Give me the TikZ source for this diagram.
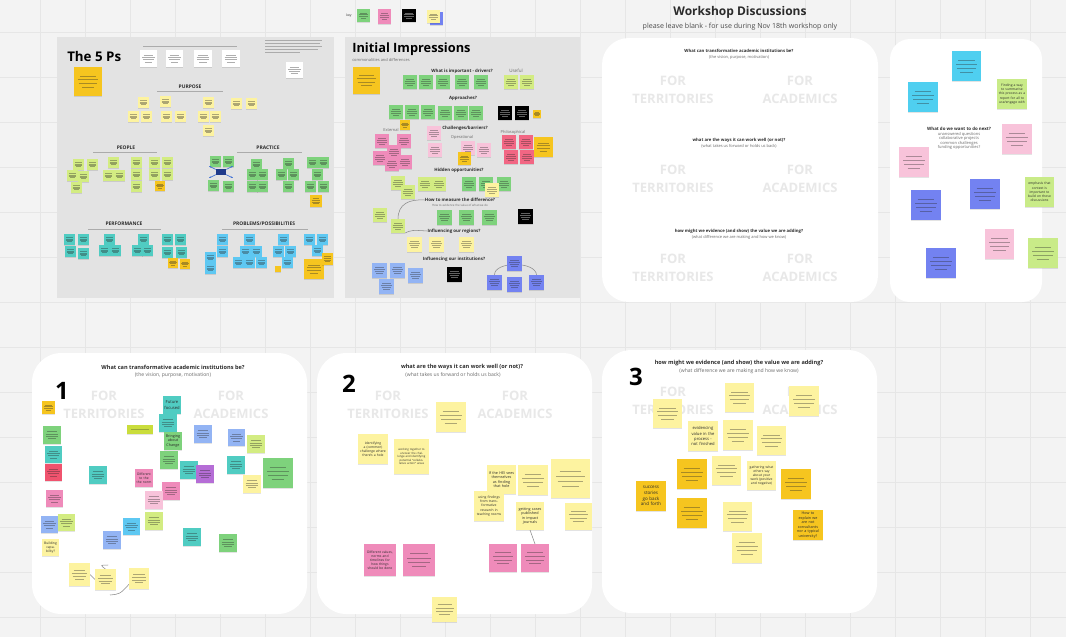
\documentclass[tikz,border=0pt]{standalone}
\usepackage{fontspec}
\setmainfont{Open Sans}
\usetikzlibrary{arrows.meta}

\definecolor{bg}{HTML}{F3F3F3}
\definecolor{gridc}{HTML}{E6E6E6}
\definecolor{pgray}{HTML}{E3E3E3}
\definecolor{ink}{HTML}{2B2B2B}
\definecolor{soft}{HTML}{6A6A6A}
\definecolor{fortxt}{HTML}{E8E8E8}
\definecolor{gold}{HTML}{F6C51F}
\definecolor{ylw}{HTML}{FDF3A0}
\definecolor{limec}{HTML}{D3EC82}
\definecolor{limeb}{HTML}{C9EB88}
\definecolor{grn}{HTML}{7ED27C}
\definecolor{tealc}{HTML}{50CCC2}
\definecolor{sky}{HTML}{5EC8F2}
\definecolor{cyanb}{HTML}{4FCFF0}
\definecolor{pinkc}{HTML}{EF8BBA}
\definecolor{lpink}{HTML}{F8C3DA}
\definecolor{rosec}{HTML}{F26683}
\definecolor{crim}{HTML}{F0536E}
\definecolor{peri}{HTML}{93B4F4}
\definecolor{violetc}{HTML}{7382F1}
\definecolor{purp}{HTML}{B56DD6}
\definecolor{olivec}{HTML}{CADD3C}
\definecolor{navy}{HTML}{1F3A8A}
\definecolor{arrowb}{HTML}{3D6FD6}
\definecolor{connc}{HTML}{8A8A8A}

\tikzset{
  gridline/.style={draw=gridc,line width=.45pt},
  hd/.style={inner sep=0,text=ink,font=\bfseries\fontsize{3.3}{4.1}\selectfont},
  caps/.style={inner sep=0,text=ink,font=\bfseries\fontsize{3.7}{4.4}\selectfont},
  fortext/.style={inner sep=0,text=fortxt,align=center,font=\bfseries\fontsize{9.75}{13.5}\selectfont},
  ptitle/.style={inner sep=0,text=ink,font=\bfseries\fontsize{4.2}{5}\selectfont},
  psub/.style={inner sep=0,text=soft,font=\fontsize{3.8}{4.6}\selectfont},
  ttitle/.style={inner sep=0,text=ink,font=\bfseries\fontsize{3.2}{4}\selectfont},
  tsub/.style={inner sep=0,text=soft,font=\fontsize{3}{3.8}\selectfont},
  bignum/.style={inner sep=0,text=black,font=\bfseries\fontsize{18}{20}\selectfont},
  scr/.style={draw=ink,opacity=.3,line width=.3pt},
  conn/.style={draw=connc,line width=.4pt},
  f2/.style={font=\fontsize{2.1}{2.6}\selectfont},
  f25/.style={font=\fontsize{2.5}{3.1}\selectfont},
  f28/.style={font=\fontsize{2.8}{3.4}\selectfont},
  f3/.style={font=\fontsize{3.1}{3.8}\selectfont},
  f34/.style={font=\fontsize{3.4}{4.2}\selectfont},
}

% faint strokes standing for unreadable handwriting on a note
\newcommand\scrib[5]{%
  \foreach \sa/\sb in {.3/.56,.43/.72,.56/.66,.69/.42}{%
    \draw[#5,line width=.22pt,opacity=.38] ({#1+#3*(1-\sb)/2},{#2+#4*\sa}) -- ++({#3*\sb},0);}}
% sticky note: left, top, width, height, colour
\newcommand\sk[5]{%
  \fill[black,opacity=.11] ({#1+.3},{#2+1}) rectangle ++(#3,#4);
  \fill[#5] (#1,#2) rectangle ++(#3,#4);
  \scrib{#1}{#2}{#3}{#4}{ink}}
% dark sticky note with light strokes
\newcommand\skd[5]{%
  \fill[black,opacity=.11] ({#1+.3},{#2+1}) rectangle ++(#3,#4);
  \fill[#5] (#1,#2) rectangle ++(#3,#4);
  \scrib{#1}{#2}{#3}{#4}{white}}
% blank sticky note
\newcommand\skb[5]{%
  \fill[black,opacity=.11] ({#1+.3},{#2+1}) rectangle ++(#3,#4);
  \fill[#5] (#1,#2) rectangle ++(#3,#4);}
% sticky note with readable text: left, top, width, height, colour, font style, text
\newcommand\skt[7]{%
  \fill[black,opacity=.11] ({#1+.3},{#2+1}) rectangle ++(#3,#4);
  \fill[#5] (#1,#2) rectangle ++(#3,#4);
  \node[inner sep=0,align=center,text=ink,text width=#3*0.66pt,#6] at ({#1+#3/2},{#2+#4/2}) {#7};}
% invisible handle over a note so connectors can attach to it
\newcommand\nm[5]{%
  \node[inner sep=0,outer sep=0,minimum width=#4*0.75pt,minimum height=#5*0.75pt] (#1) at ({#2+#4/2},{#3+#5/2}) {};}

\begin{document}
\begin{tikzpicture}[x=0.75pt,y=-0.75pt]
\useasboundingbox (0,0) rectangle (1066,637);
\fill[bg] (0,0) rectangle (1066,637);
\foreach \gx in {40,85,...,1066} \draw[gridline] (\gx,0) -- (\gx,637);
\foreach \gy in {32,77,...,637} \draw[gridline] (0,\gy) -- (1066,\gy);

% ---------------- heading and key ----------------
\node[inner sep=0,text=ink,font=\bfseries\fontsize{9}{11}\selectfont] (wtitle) at (740,12) {Workshop Discussions};
\node[inner sep=0,text=ink!85,font=\fontsize{5.3}{6.5}\selectfont] (wsub) at (740,27) {please leave blank - for use during Nov 18th workshop only};
\node[inner sep=0,text=ink,font=\fontsize{2.5}{3}\selectfont] (keylab) at (349,16) {key};
\sk{357}{9}{13}{13}{grn}
\sk{378}{9}{13}{15}{pinkc}
\skd{402}{9}{14}{13}{black}
\skb{430}{12}{13}{13}{violetc}
\sk{427}{10}{13}{13}{ylw}

% ---------------- panels ----------------
\fill[pgray] (57,37) rectangle (334,298);
\fill[pgray] (345,37) rectangle (580,298);
\fill[white,rounded corners=20pt] (602,38) rectangle (878,302);
\fill[white,rounded corners=15pt] (890,39) rectangle (1042,302);
\fill[white,rounded corners=22pt] (32,353) rectangle (307,614);
\fill[white,rounded corners=22pt] (317,353) rectangle (592,614);
\fill[white,rounded corners=22pt] (602,350) rectangle (877,613);

% ---------------- The 5 Ps ----------------
\node[inner sep=0,anchor=west,text=black,font=\bfseries\fontsize{10}{12}\selectfont] (fiveps) at (67,56) {The 5 Ps};
\draw[scr] (143,46) -- (237,46);
\foreach \ly/\lx in {40/322,43/320,46/322,49/318,52/300} \draw[scr] (265,\ly) -- (\lx,\ly);
\sk{140}{50}{17}{17}{white}
\sk{166}{50}{17}{17}{white}
\sk{194}{50}{18}{17}{white}
\sk{222}{50}{18}{17}{white}
\sk{286}{62}{17}{16}{white}
\sk{74}{67}{28}{29}{gold}

\node[caps] (purpose) at (190,87) {PURPOSE};
\draw[scr] (157,91.5) -- (223,91.5);
\foreach \x/\y in {138/97,160/96,128/111,141/111,161/111,175/111,203/97,198/111,210/111,203/125,231/98,246/98}
  {\sk{\x}{\y}{11}{11}{ylw}}

\node[caps] (people) at (126,148) {PEOPLE};
\draw[scr] (93,152.5) -- (157,152.5);
\node[caps] (practice) at (268,148) {PRACTICE};
\draw[scr] (237,152.5) -- (302,152.5);
\foreach \x/\y in {73/159,87/159,108/157,131/157,149/157,162/157,67/170,78/171,103/170,114/170,131/169,149/169,162/169,71/182,131/181}
  {\sk{\x}{\y}{11}{11}{limec}}
\sk{155}{181}{10}{10}{gold}
\foreach \x/\y in {210/156,223/156,251/159,283/158,307/157,318/157,208/180,223/181,247/169,257/169,247/181,257/181,276/169,288/169,283/181,312/169,305/181,318/181}
  {\sk{\x}{\y}{11}{11}{grn}}
\sk{310}{195}{12}{12}{gold}
% small hub sketch among the practice notes
\node[fill=navy,inner sep=0,minimum width=7.5pt,minimum height=4pt] (hub) at (221,172) {};
\coordinate (hubA) at (209,166);
\coordinate (hubB) at (233,166);
\coordinate (hubC) at (209,178);
\coordinate (hubD) at (233,178);
\foreach \c in {hubA,hubB,hubC,hubD}
  \draw[arrowb,line width=.5pt,-{Stealth[length=1.6pt,width=1.4pt]}] (hub) -- (\c);

\node[caps] (perf) at (124,224) {PERFORMANCE};
\draw[scr] (88,229) -- (161,229);
\node[caps] (probs) at (264,224) {PROBLEMS/POSSIBILITIES};
\draw[scr] (222,229) -- (308,229);
\foreach \x/\y in {64/234,78/234,104/234,138/234,162/234,175/234,65/246,78/248,99/245,110/245,132/245,142/245,162/247,176/247}
  {\sk{\x}{\y}{11}{11}{tealc}}
\sk{168}{258}{10}{10}{gold}
\sk{180}{259}{10}{10}{gold}
\foreach \x/\y in {217/234,244/234,278/234,304/234,317/234,217/246,240/246,251/246,273/246,285/246,312/245,233/257,244/257,256/257,205/252,205/263,282/257}
  {\sk{\x}{\y}{11}{11}{sky}}
\skb{275}{266}{6}{6}{gold}
\sk{304}{259}{20}{20}{gold}
\sk{322}{253}{11}{12}{gold}

% ---------------- Initial Impressions ----------------
\node[inner sep=0,anchor=west,text=black,font=\bfseries\fontsize{9.6}{11.5}\selectfont] (initimp) at (352,49) {Initial Impressions};
\node[inner sep=0,anchor=west,text=soft,font=\fontsize{3}{3.6}\selectfont] (commdiff) at (352,60) {commonalities and differences};
\sk{353}{67}{27}{27}{gold}
\node[hd] (drivers) at (462,71) {What is important - drivers?};
\node[inner sep=0,text=soft,font=\fontsize{3.4}{4}\selectfont] (useful) at (516,71) {Useful};
\foreach \x in {403,419,436,455,474} {\sk{\x}{75}{14}{14}{grn}}
\sk{504}{75}{14}{14}{limec}
\sk{520}{75}{14}{14}{limec}
\node[hd] (approaches) at (463,98) {Approaches?};
\foreach \x/\y in {389/105,405/105,421/105,438/106,454/106,469/106} {\sk{\x}{\y}{14}{14}{grn}}
\skd{498}{106}{14}{14}{black}
\skd{515}{106}{14}{14}{black}
\sk{533}{110}{8}{8}{gold}
\sk{400}{120}{10}{10}{gold}
\node[inner sep=0,text=soft,font=\fontsize{3}{3.6}\selectfont] (external) at (391,130) {External};
\node[hd] (barriers) at (465,128) {Challenges/barriers?};
\node[inner sep=0,text=soft,font=\fontsize{3}{3.6}\selectfont] (operational) at (462,137) {Operational};
\node[inner sep=0,text=soft,font=\fontsize{3}{3.6}\selectfont] (philos) at (513,132) {Philosophical};
\foreach \x/\y in {375/134,397/134,387/145,373/151,398/155,385/157} {\sk{\x}{\y}{14}{14}{pinkc}}
\foreach \x/\y in {427/126,428/143,461/141,477/143} {\sk{\x}{\y}{14}{14}{lpink}}
\sk{458}{152}{13}{13}{gold}
\foreach \x/\y in {502/135,519/135,504/150,520/150} {\sk{\x}{\y}{14}{14}{rosec}}
\sk{534}{137}{19}{20}{gold}

\node[hd] (hidden) at (459,170) {Hidden opportunities?};
\foreach \x/\y in {391/176,401/185,418/177,432/177} {\sk{\x}{\y}{14}{14}{limec}}
\foreach \x/\y in {462/177,479/177,497/177} {\sk{\x}{\y}{14}{14}{grn}}
\sk{485}{183}{14}{14}{ylw}

\node[hd] (measure) at (460,200) {How to measure the difference?};
\node[inner sep=0,text=soft,font=\fontsize{2.2}{2.8}\selectfont] (measuresub) at (460,205) {How to evidence the value of what we do};
\node[hd] (regions) at (454,231) {Influencing our regions?};
\node[hd] (institutions) at (454,259) {Influencing our institutions?};
\nm{m2}{391}{219}{14}{14}
\draw[conn] (m2.north) .. controls (398,204) and (409,199) .. (measure.west);
\draw[conn] (m2.south east) .. controls (412,230) .. (regions.west);
\sk{373}{208}{14}{14}{limec}
\sk{391}{219}{14}{14}{limec}
\foreach \x in {437,459,482} {\sk{\x}{210}{15}{15}{grn}}
\skd{518}{209}{15}{15}{black}
\foreach \x in {407,429,459} {\sk{\x}{237}{15}{15}{ylw}}
\foreach \x/\y in {372/263,390/263,408/268,379/279} {\sk{\x}{\y}{15}{15}{peri}}
\skd{447}{267}{15}{15}{black}
\nm{i1}{487}{275}{15}{15}
\nm{i3}{529}{275}{15}{15}
\draw[conn] (i1.north) .. controls (494,261) and (536,261) .. (i3.north);
\sk{507}{256}{15}{15}{violetc}
\sk{487}{275}{15}{15}{violetc}
\sk{507}{277}{15}{15}{violetc}
\sk{529}{275}{15}{15}{violetc}

% ---------------- blank workshop board ----------------
\node[ttitle] (q1t) at (739,51) {What can transformative academic institutions be?};
\node[tsub] (q1s) at (739,57.5) {(the vision, purpose, motivation)};
\node[ttitle] (q2t) at (739,140) {what are the ways it can work well (or not)?};
\node[tsub] (q2s) at (739,146) {(what takes us forward or holds us back)};
\node[ttitle] (q3t) at (739,231) {how might we evidence (and show) the value we are adding?};
\node[tsub] (q3s) at (739,237) {(what difference we are making and how we know)};
\node[fortext] (ft1) at (673,90) {FOR\\TERRITORIES};
\node[fortext] (fa1) at (800,90) {FOR\\ACADEMICS};
\node[fortext] (ft2) at (673,179) {FOR\\TERRITORIES};
\node[fortext] (fa2) at (800,179) {FOR\\ACADEMICS};
\node[fortext] (ft3) at (673,268) {FOR\\TERRITORIES};
\node[fortext] (fa3) at (800,268) {FOR\\ACADEMICS};

% ---------------- next steps board ----------------
\node[hd] (nexttitle) at (959,129) {What do we want to do next?};
\node[inner sep=0,text=soft,align=center,font=\fontsize{3}{3.4}\selectfont] (nextsub) at (959,141) {unanswered questions\\collaborative projects\\common challenges\\funding opportunities?};
\sk{952}{51}{29}{30}{cyanb}
\sk{908}{82}{30}{30}{cyanb}
\skt{997}{79}{30}{30}{limeb}{f25}{Finding a way to summarise this process as a report for all to use/engage with}
\sk{1002}{124}{30}{30}{lpink}
\sk{899}{147}{30}{30}{lpink}
\skt{1025}{177}{29}{30}{limeb}{f25}{emphasis that context is important to build on those discussions}
\sk{970}{179}{30}{30}{violetc}
\sk{911}{190}{30}{30}{violetc}
\sk{985}{229}{29}{30}{lpink}
\sk{1028}{238}{30}{30}{limeb}
\sk{926}{248}{30}{30}{violetc}

% ---------------- board 1 ----------------
\node[ptitle] (b1t) at (173,367) {What can transformative academic institutions be?};
\node[psub] (b1s) at (173,375) {(the vision, purpose, motivation)};
\node[bignum] (n1) at (62,391) {1};
\node[fortext] (b1ft) at (104,405) {FOR\\TERRITORIES};
\node[fortext] (b1fa) at (231,405) {FOR\\ACADEMICS};
\sk{42}{401}{13}{13}{gold}
\sk{43}{426}{18}{18}{grn}
\sk{45}{446}{17}{17}{tealc}
\sk{45}{464}{17}{17}{crim}
\sk{46}{490}{17}{17}{pinkc}
\sk{41}{516}{17}{17}{peri}
\sk{58}{514}{17}{17}{limec}
\skt{42}{539}{17}{17}{ylw}{f25}{Building capability?}
\sk{89}{466}{18}{18}{tealc}
\skb{127}{425}{26}{9}{olivec}
\draw[scr] (131,429.5) -- (149,429.5);
\skt{163}{396}{18}{18}{tealc}{f3}{Future focused}
\sk{159}{414}{18}{18}{tealc}
\skt{164}{432}{18}{18}{grn}{f28}{Bringing about Change}
\sk{160}{451}{18}{18}{grn}
\sk{180}{461}{18}{18}{tealc}
\sk{196}{465}{18}{18}{purp}
\skt{135}{469}{18}{18}{pinkc}{f25}{Different to the the norm}
\sk{162}{482}{18}{18}{pinkc}
\sk{145}{491}{18}{18}{lpink}
\sk{145}{512}{18}{18}{limec}
\sk{123}{518}{17}{17}{sky}
\sk{103}{531}{18}{18}{peri}
\sk{183}{528}{18}{18}{tealc}
\sk{219}{534}{18}{18}{grn}
\sk{194}{425}{18}{18}{peri}
\sk{228}{429}{17}{17}{peri}
\sk{247}{435}{18}{18}{limec}
\sk{227}{456}{18}{18}{tealc}
\sk{243}{475}{18}{18}{ylw}
\sk{263}{458}{30}{30}{grn}
\nm{q1}{69}{563}{21}{23}
\nm{q2}{95}{569}{21}{21}
\nm{q3}{129}{568}{20}{21}
\coordinate (qtick) at (108,565);
\coordinate (qtail) at (110,595);
\draw[conn] (q1.east) -- (q2.west);
\draw[conn] (q2.north) .. controls (100,565) .. (qtick);
\draw[conn] (qtail) .. controls (120,594) .. (q3.210);
\sk{69}{563}{21}{23}{ylw}
\sk{95}{569}{21}{21}{ylw}
\sk{129}{568}{20}{21}{ylw}

% ---------------- board 2 ----------------
\node[ptitle] (b2t) at (462,367) {what are the ways it can work well (or not)?};
\node[psub] (b2s) at (453,375) {(what takes us forward or holds us back)};
\node[bignum] (n2) at (349,384) {2};
\node[fortext] (b2ft) at (388,405) {FOR\\TERRITORIES};
\node[fortext] (b2fa) at (515,405) {FOR\\ACADEMICS};
\sk{436}{402}{30}{30}{ylw}
\skt{358}{434}{30}{30}{ylw}{f25}{identifying a (common) challenge where there's a hole}
\skt{394}{439}{35}{35}{ylw}{f2}{working together to uncover the challenge and identifying potential ``collaborative action'' areas}
\skt{487}{465}{29}{29}{ylw}{f28}{If the HEI sees themselves as finding that hole}
\sk{518}{465}{30}{30}{ylw}
\sk{551}{459}{39}{39}{ylw}
\skt{474}{491}{30}{30}{ylw}{f25}{using findings from transformative research in teaching rooms}
\nm{gc}{516}{502}{28}{28}
\nm{pk4}{521}{544}{28}{28}
\draw[conn] (gc.south) -- (pk4.north);
\skt{516}{502}{28}{28}{ylw}{f28}{getting cases published in impact journals}
\sk{565}{503}{27}{27}{ylw}
\skt{364}{544}{32}{32}{pinkc}{f25}{Different values, norms and timelines for how things should be done}
\sk{403}{544}{32}{32}{pinkc}
\sk{489}{544}{28}{28}{pinkc}
\sk{521}{544}{28}{28}{pinkc}
\sk{432}{597}{25}{25}{ylw}

% ---------------- board 3 ----------------
\node[ptitle] (b3t) at (739,363) {how might we evidence (and show) the value we are adding?};
\node[psub] (b3s) at (739,371) {(what difference we are making and how we know)};
\node[bignum] (n3) at (636,377) {3};
\node[fortext] (b3ft) at (673,401) {FOR\\TERRITORIES};
\node[fortext] (b3fa) at (800,401) {FOR\\ACADEMICS};
\sk{653}{399}{29}{29}{ylw}
\sk{725}{383}{29}{29}{ylw}
\sk{789}{386}{30}{30}{ylw}
\skt{688}{421}{30}{30}{ylw}{f3}{evidencing value in the process - not finished}
\sk{723}{420}{30}{30}{ylw}
\sk{757}{426}{29}{29}{ylw}
\sk{712}{456}{29}{29}{ylw}
\skt{747}{461}{29}{29}{ylw}{f25}{gathering what others say about your work (positive and negative)}
\sk{723}{502}{29}{29}{ylw}
\sk{732}{533}{30}{30}{ylw}
\sk{677}{459}{30}{30}{gold}
\skt{636}{481}{30}{30}{gold}{f34}{success stories go back and forth}
\sk{677}{498}{30}{30}{gold}
\sk{781}{469}{30}{30}{gold}
\skt{793}{510}{30}{30}{gold}{f28}{How to explain we are not consultants nor a typical university?}
\end{tikzpicture}
\end{document}
